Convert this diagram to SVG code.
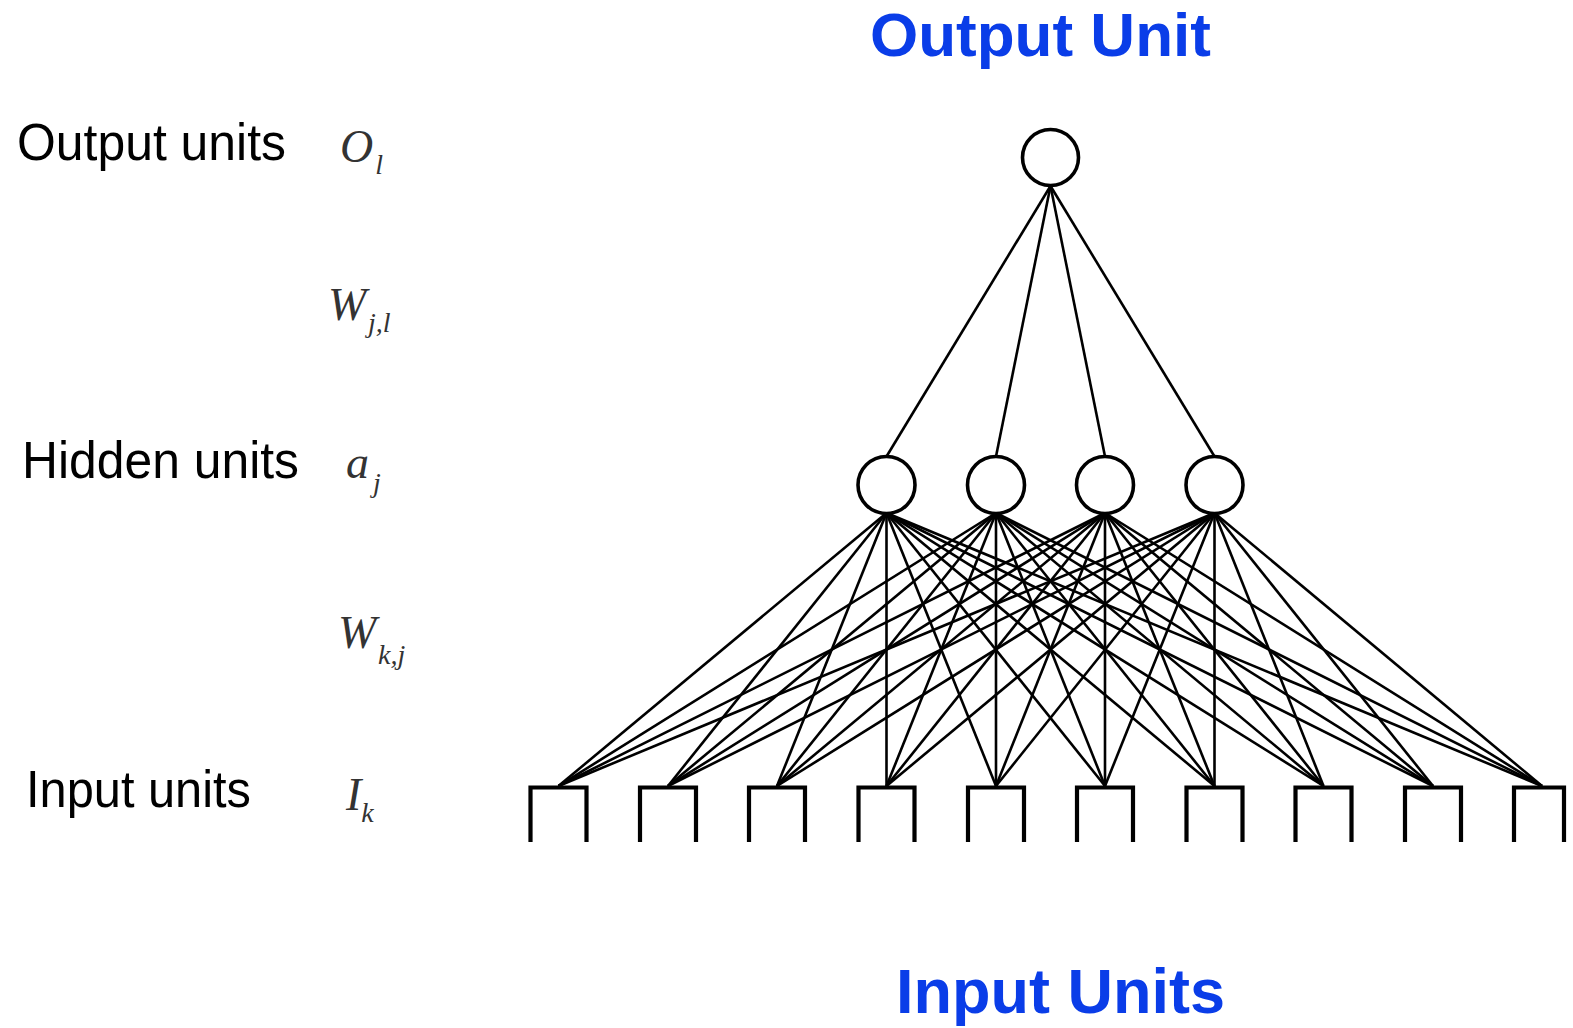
<svg xmlns="http://www.w3.org/2000/svg" width="1573" height="1028" viewBox="0 0 1573 1028">
<style>
.title{font-family:"Liberation Sans",Arial,sans-serif;font-weight:bold;fill:#0a3de8}
.lbl{font-family:"Liberation Sans",Arial,sans-serif;font-size:52px;fill:#000}
.sym{font-family:"Liberation Serif","Times New Roman",serif;font-style:italic;font-size:46px;fill:#333}
.sub{font-size:28px}
.node{fill:#fff;stroke:#000;stroke-width:3.6}
.box{fill:none;stroke:#000;stroke-width:4.2}
.conn line{stroke:#000;stroke-width:2.6}
</style>
<rect width="1573" height="1028" fill="#fff"/>

<text class="title" x="870" y="56" font-size="62">Output Unit</text>
<text class="title" x="896" y="1013" font-size="63">Input Units</text>

<g id="labels">
<text class="lbl" x="17" y="160" textLength="269" lengthAdjust="spacingAndGlyphs">Output units</text>
<text class="lbl" x="22" y="478" textLength="277" lengthAdjust="spacingAndGlyphs">Hidden units</text>
<text class="lbl" x="26" y="807" textLength="225" lengthAdjust="spacingAndGlyphs">Input units</text>
<text class="sym" x="340" y="162">O<tspan class="sub" dx="2" dy="12">l</tspan></text>
<text class="sym" x="328" y="320">W</text>
<text class="sym sub" x="368" y="332">j,l</text>
<text class="sym" x="346" y="478">a<tspan class="sub" dx="4" dy="14">j</tspan></text>
<text class="sym" x="338" y="648">W</text>
<text class="sym sub" x="378" y="664">k,j</text>
<text class="sym" x="346" y="810">I<tspan class="sub" dx="0" dy="12">k</tspan></text>
</g>

<g id="connectors" class="conn">
<line x1="1050.5" y1="186" x2="886.5" y2="456.5"/>
<line x1="1050.5" y1="186" x2="996" y2="456.5"/>
<line x1="1050.5" y1="186" x2="1105" y2="456.5"/>
<line x1="1050.5" y1="186" x2="1214.5" y2="456.5"/>

<line x1="886.5" y1="513" x2="558.5" y2="786"/>
<line x1="886.5" y1="513" x2="668" y2="786"/>
<line x1="886.5" y1="513" x2="777" y2="786"/>
<line x1="886.5" y1="513" x2="886.5" y2="786"/>
<line x1="886.5" y1="513" x2="996" y2="786"/>
<line x1="886.5" y1="513" x2="1105" y2="786"/>
<line x1="886.5" y1="513" x2="1214.5" y2="786"/>
<line x1="886.5" y1="513" x2="1323.5" y2="786"/>
<line x1="886.5" y1="513" x2="1433" y2="786"/>
<line x1="886.5" y1="513" x2="1542" y2="786"/>

<line x1="996" y1="513" x2="558.5" y2="786"/>
<line x1="996" y1="513" x2="668" y2="786"/>
<line x1="996" y1="513" x2="777" y2="786"/>
<line x1="996" y1="513" x2="886.5" y2="786"/>
<line x1="996" y1="513" x2="996" y2="786"/>
<line x1="996" y1="513" x2="1105" y2="786"/>
<line x1="996" y1="513" x2="1214.5" y2="786"/>
<line x1="996" y1="513" x2="1323.5" y2="786"/>
<line x1="996" y1="513" x2="1433" y2="786"/>
<line x1="996" y1="513" x2="1542" y2="786"/>

<line x1="1105" y1="513" x2="558.5" y2="786"/>
<line x1="1105" y1="513" x2="668" y2="786"/>
<line x1="1105" y1="513" x2="777" y2="786"/>
<line x1="1105" y1="513" x2="886.5" y2="786"/>
<line x1="1105" y1="513" x2="996" y2="786"/>
<line x1="1105" y1="513" x2="1105" y2="786"/>
<line x1="1105" y1="513" x2="1214.5" y2="786"/>
<line x1="1105" y1="513" x2="1323.5" y2="786"/>
<line x1="1105" y1="513" x2="1433" y2="786"/>
<line x1="1105" y1="513" x2="1542" y2="786"/>

<line x1="1214.5" y1="513" x2="558.5" y2="786"/>
<line x1="1214.5" y1="513" x2="668" y2="786"/>
<line x1="1214.5" y1="513" x2="777" y2="786"/>
<line x1="1214.5" y1="513" x2="886.5" y2="786"/>
<line x1="1214.5" y1="513" x2="996" y2="786"/>
<line x1="1214.5" y1="513" x2="1105" y2="786"/>
<line x1="1214.5" y1="513" x2="1214.5" y2="786"/>
<line x1="1214.5" y1="513" x2="1323.5" y2="786"/>
<line x1="1214.5" y1="513" x2="1433" y2="786"/>
<line x1="1214.5" y1="513" x2="1542" y2="786"/>
</g>

<g id="output-node"><circle class="node" cx="1050.5" cy="157.5" r="28"/></g>

<g id="hidden-1"><circle class="node" cx="886.5" cy="485" r="28.5"/></g>
<g id="hidden-2"><circle class="node" cx="996" cy="485" r="28.5"/></g>
<g id="hidden-3"><circle class="node" cx="1105" cy="485" r="28.5"/></g>
<g id="hidden-4"><circle class="node" cx="1214.5" cy="485" r="28.5"/></g>

<g id="input-1"><path class="box" d="M530.5 842V787.5H586.5V842"/></g>
<g id="input-2"><path class="box" d="M640 842V787.5H696V842"/></g>
<g id="input-3"><path class="box" d="M749 842V787.5H805V842"/></g>
<g id="input-4"><path class="box" d="M858.5 842V787.5H914.5V842"/></g>
<g id="input-5"><path class="box" d="M968 842V787.5H1024V842"/></g>
<g id="input-6"><path class="box" d="M1077 842V787.5H1133V842"/></g>
<g id="input-7"><path class="box" d="M1186.5 842V787.5H1242.5V842"/></g>
<g id="input-8"><path class="box" d="M1295.5 842V787.5H1351.5V842"/></g>
<g id="input-9"><path class="box" d="M1405 842V787.5H1461V842"/></g>
<g id="input-10"><path class="box" d="M1514 842V787.5H1564V842"/></g>
</svg>
